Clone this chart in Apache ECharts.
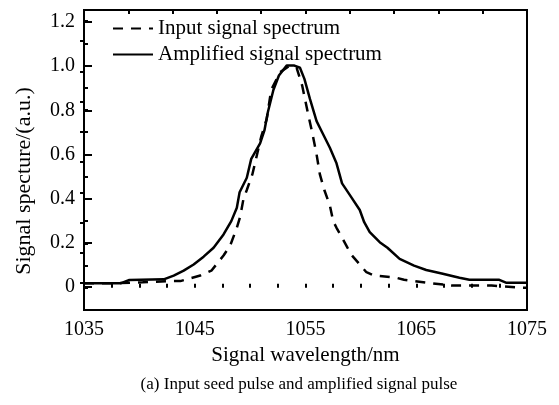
<!DOCTYPE html>
<html>
<head>
<meta charset="utf-8">
<script src="https://cdn.jsdelivr.net/npm/echarts@6/dist/echarts.min.js"></script>
<style>
html,body{margin:0;padding:0;background:#fff;}
#chart{width:559px;height:405px;}
</style>
</head>
<body>
<div id="chart"></div>
<script>
// ---- data ----
var seriesNames = ['Input signal spectrum', 'Amplified signal spectrum'];

var inputWavelength = [1035, 1037.6, 1040.3, 1042.8, 1043.7, 1045.5, 1046.5, 1047.6, 1048.2, 1048.8,
  1049.1, 1049.4, 1049.7, 1050.2, 1051.0, 1051.5, 1051.9, 1052.7, 1053.6, 1054.2,
  1054.7, 1055.2, 1055.6, 1056.0, 1056.3, 1056.7, 1057.2, 1057.5, 1057.8, 1058.8,
  1059.2, 1060.5, 1061.2, 1063.2, 1063.9, 1065.9, 1068.2, 1071.8, 1074.5, 1075];
var inputValues = [0.02, 0.02, 0.025, 0.03, 0.03, 0.055, 0.077, 0.145, 0.19, 0.27,
  0.32, 0.40, 0.44, 0.51, 0.68, 0.76, 0.89, 0.97, 1.0, 0.99,
  0.91, 0.79, 0.70, 0.60, 0.51, 0.44, 0.37, 0.30, 0.27, 0.18,
  0.145, 0.07, 0.055, 0.045, 0.036, 0.023, 0.01, 0.01, 0.0, 0.0];

var ampWavelength = [1035, 1038.3, 1039.1, 1042.2, 1043.1, 1044.0, 1044.9, 1045.8, 1046.7, 1047.6,
  1048.3, 1048.8, 1049.05, 1049.7, 1050.1, 1050.9, 1051.3, 1051.6, 1052.1, 1052.6,
  1053.3, 1054.0, 1054.5, 1054.9, 1055.4, 1056.0, 1056.5, 1057.2, 1057.8, 1058.3,
  1059.1, 1059.9, 1060.3, 1060.8, 1061.7, 1062.4, 1063.5, 1064.8, 1065.9, 1067.3,
  1068.9, 1069.8, 1072.5, 1073.1, 1075];
var ampValues = [0.02, 0.02, 0.035, 0.038, 0.055, 0.077, 0.105, 0.14, 0.18, 0.24,
  0.30, 0.36, 0.43, 0.495, 0.58, 0.65, 0.71, 0.79, 0.89, 0.955,
  1.0, 1.0, 0.99, 0.94, 0.85, 0.75, 0.70, 0.63, 0.56, 0.47,
  0.41, 0.35, 0.295, 0.25, 0.205, 0.18, 0.13, 0.10, 0.08, 0.064,
  0.045, 0.036, 0.036, 0.023, 0.023];

var xTickLabels = [1035, 1045, 1055, 1065, 1075];
var yTickLabels = ['0', '0.2', '0.4', '0.6', '0.8', '1.0', '1.2'];

var xTitle = 'Signal wavelength/nm';
var yTitle = 'Signal specture/(a.u.)';
var caption = '(a) Input seed pulse and amplified signal pulse';

// ---- chart ----
var FONT = '"Liberation Serif", "Times New Roman", serif';
function pairs(xs, ys) { return xs.map(function (x, i) { return [x, ys[i]]; }); }

var chart = echarts.init(document.getElementById('chart'), null, {renderer: 'canvas'});
var tickStyle = {color: '#000', width: 2};

var option = {
  backgroundColor: '#fff',
  animation: false,
  grid: [
    {left: 84, right: 32, top: 10, bottom: 95, show: true, borderColor: '#000', borderWidth: 2, backgroundColor: 'transparent'},
    {left: 84, right: 32, top: 22, bottom: 118},
    {left: 84, right: 32, top: 41, bottom: 122}
  ],
  legend: {
    orient: 'vertical', left: 107, top: 13,
    itemWidth: 40, itemHeight: 20, itemGap: 5,
    data: seriesNames,
    itemStyle: {opacity: 0},
    textStyle: {fontFamily: FONT, fontSize: 21, color: '#000'}
  },
  xAxis: [
    {
      gridIndex: 0, type: 'value', position: 'bottom', min: 1035, max: 1075, interval: 2.5,
      axisLine: {show: false}, splitLine: {show: false},
      axisTick: {show: true, inside: true, length: 4, lineStyle: tickStyle},
      axisLabel: {
        margin: 10, color: '#000', fontFamily: FONT, fontSize: 20,
        formatter: function (v) { return xTickLabels.indexOf(Math.round(v * 1000) / 1000) >= 0 ? String(v) : ''; }
      },
      name: xTitle, nameLocation: 'middle', nameGap: 34,
      nameTextStyle: {fontFamily: FONT, fontSize: 21, color: '#000'}
    },
    {
      gridIndex: 0, type: 'value', position: 'top', min: 1032, max: 1072, interval: 4,
      axisLine: {show: false}, splitLine: {show: false}, axisLabel: {show: false},
      axisTick: {show: true, inside: true, length: 4, lineStyle: tickStyle}
    },
    {gridIndex: 1, type: 'value', show: false, min: 0, max: 1},
    {gridIndex: 2, type: 'value', show: false, min: 0, max: 1}
  ],
  yAxis: [
    {
      gridIndex: 0, type: 'value', position: 'left', min: -0.1, max: 1.25, interval: 0.1,
      axisLine: {show: false}, splitLine: {show: false}, axisLabel: {show: false},
      axisTick: {show: true, inside: true, length: 4, lineStyle: tickStyle}
    },
    {
      gridIndex: 1, type: 'value', position: 'left', min: 0, max: 1.2, interval: 0.2,
      axisLine: {show: false}, splitLine: {show: false},
      axisTick: {show: true, inside: true, length: 8, lineStyle: tickStyle},
      axisLabel: {
        margin: 9, color: '#000', fontFamily: FONT, fontSize: 20,
        formatter: function (v) { return yTickLabels[Math.round(v / 0.2)] || ''; }
      }
    },
    {
      gridIndex: 2, type: 'value', position: 'right', min: 0, max: 8, interval: 1,
      axisLine: {show: false}, splitLine: {show: false}, axisLabel: {show: false},
      axisTick: {show: true, inside: true, length: 4, lineStyle: tickStyle}
    }
  ],
  series: [
    {
      name: seriesNames[0], type: 'line', xAxisIndex: 0, yAxisIndex: 0,
      data: pairs(inputWavelength, inputValues),
      symbol: 'none', smooth: false,
      lineStyle: {color: '#000', width: 2.5, type: [10, 8]},
      itemStyle: {color: '#000'}
    },
    {
      name: seriesNames[1], type: 'line', xAxisIndex: 0, yAxisIndex: 0,
      data: pairs(ampWavelength, ampValues),
      symbol: 'none', smooth: false,
      lineStyle: {color: '#000', width: 2.5, type: 'solid'},
      itemStyle: {color: '#000'}
    }
  ],
  graphic: [
    {
      type: 'text', x: 24, y: 181, rotation: Math.PI / 2,
      style: {text: yTitle, font: '22px ' + FONT, fill: '#000', align: 'center', verticalAlign: 'middle'}
    },
    {
      type: 'text', x: 299, y: 385,
      style: {text: caption, font: '17px ' + FONT, fill: '#000', align: 'center', verticalAlign: 'middle'}
    }
  ]
};
chart.setOption(option);
</script>
</body>
</html>
